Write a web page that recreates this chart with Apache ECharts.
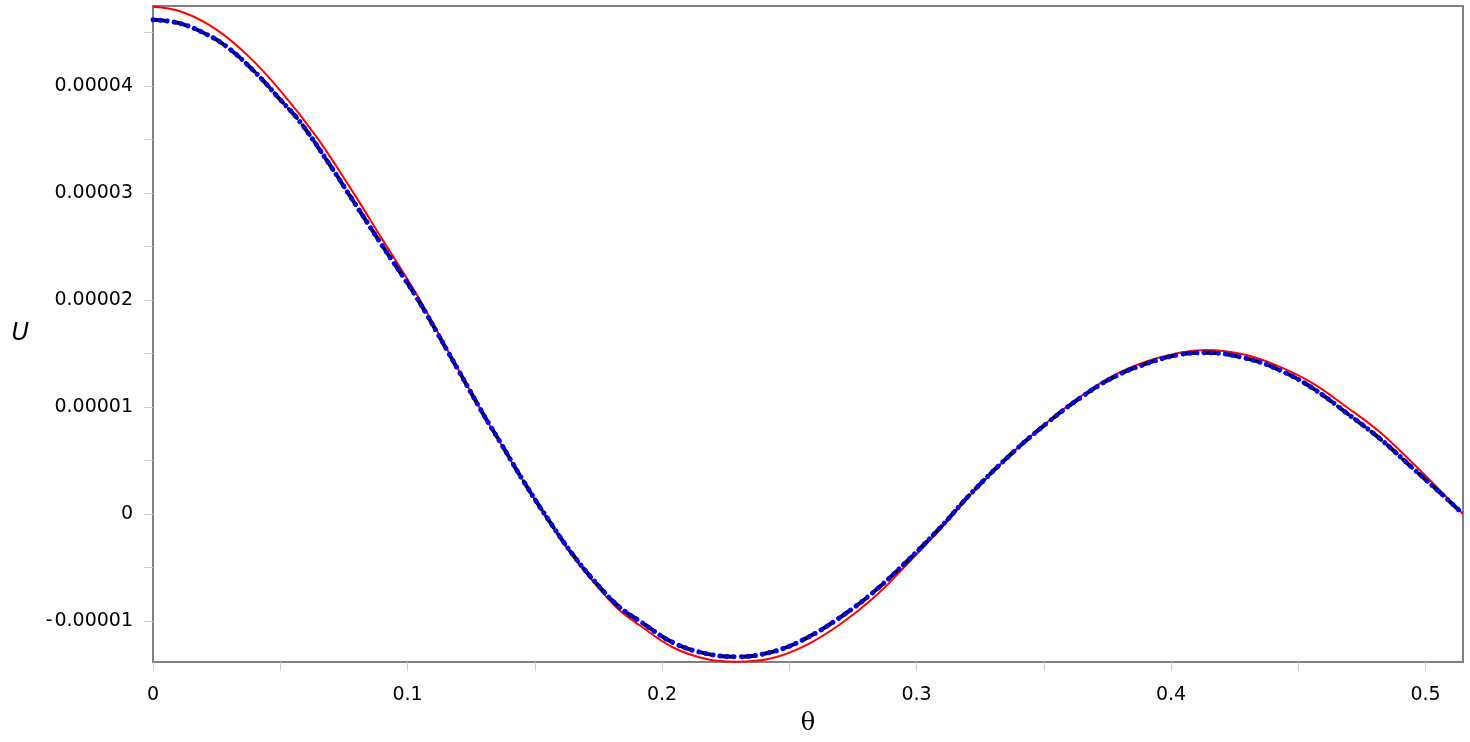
<!DOCTYPE html>
<html>
<head>
<meta charset="utf-8">
<title>U(θ)</title>
<script src="https://cdn.jsdelivr.net/npm/echarts@6/dist/echarts.min.js"></script>
<style>
  html, body { margin: 0; padding: 0; background: #fff; }
  #chart { width: 1470px; height: 742px; }
</style>
</head>
<body>
<div id="chart"></div>
<script>
// red solid curve, U in units of 1e-5
const thetaRed = [0, 0.0117, 0.0248, 0.0379, 0.051, 0.0641, 0.0772, 0.0903, 0.1034, 0.1165,
  0.1296, 0.1362, 0.146, 0.1561, 0.1656, 0.1754, 0.1833, 0.1912, 0.2042, 0.2174,
  0.2292, 0.2435, 0.2567, 0.2697, 0.2828, 0.296, 0.309, 0.3221, 0.3378, 0.351,
  0.364, 0.3771, 0.3903, 0.4033, 0.4138, 0.4295, 0.4426, 0.4557, 0.4688, 0.4819,
  0.495, 0.5081, 0.5147]
const uRed = [4.74, 4.69, 4.53, 4.27, 3.93, 3.53, 3.06, 2.56, 2.06, 1.50,
  0.94, 0.676, 0.287, -0.087, -0.414, -0.70, -0.90, -1.04, -1.245, -1.355,
  -1.380, -1.345, -1.225, -1.035, -0.79, -0.477, -0.150, 0.20, 0.575, 0.85,
  1.09, 1.29, 1.425, 1.508, 1.533, 1.486, 1.377, 1.221, 1.003, 0.769,
  0.474, 0.162, 0]

// numerical curve (drawn black dashed + blue dotted)
const thetaNum = [0, 0.0098, 0.0196, 0.0288, 0.0405, 0.0497, 0.0576, 0.0693, 0.0772, 0.0903,
  0.1034, 0.1165, 0.1296, 0.1362, 0.146, 0.1561, 0.1656, 0.1754, 0.1833, 0.1912,
  0.2042, 0.2174, 0.2292, 0.2435, 0.2567, 0.2697, 0.2828, 0.296, 0.309, 0.3221,
  0.3378, 0.351, 0.364, 0.3771, 0.3903, 0.4033, 0.4138, 0.4295, 0.4426, 0.4557,
  0.4688, 0.4819, 0.495, 0.5081, 0.5147]
const uNum = [4.62, 4.59, 4.50, 4.37, 4.12, 3.88, 3.67, 3.27, 2.98, 2.50,
  2.03, 1.49, 0.94, 0.68, 0.29, -0.08, -0.40, -0.68, -0.87, -1.00,
  -1.20, -1.305, -1.334, -1.287, -1.16, -0.97, -0.735, -0.446, -0.134, 0.21,
  0.575, 0.845, 1.08, 1.275, 1.405, 1.49, 1.508, 1.455, 1.346, 1.175,
  0.947, 0.707, 0.427, 0.147, 0]

const xLabels = [0, 0.1, 0.2, 0.3, 0.4, 0.5]
const xTicks = [0, 0.05, 0.1, 0.15, 0.2, 0.25, 0.3, 0.35, 0.4, 0.45, 0.5]
const yLabels = [-0.00001, 0, 0.00001, 0.00002, 0.00003, 0.00004]
const yTicks = [-0.00001, -0.000005, 0, 0.000005, 0.00001, 0.000015, 0.00002, 0.000025,
  0.00003, 0.000035, 0.00004, 0.000045]

const pairs = (xs, ys) => xs.map((x, i) => [x, ys[i] * 1e-5])

const chart = echarts.init(document.getElementById('chart'))
const labelFont = {
  color: '#000',
  fontFamily: 'DejaVu Sans',
  fontSize: 19
}
const option = {
  animation: false,
  grid: {
    left: 153,
    right: 7,
    top: 6,
    bottom: 80,
    show: true,
    borderColor: '#808080',
    borderWidth: 2
  },
  xAxis: {
    type: 'value',
    min: 0,
    max: 0.5147,
    name: 'θ',
    nameLocation: 'middle',
    nameGap: 50,
    nameTextStyle: {
      fontFamily: 'DejaVu Serif',
      fontSize: 24,
      color: '#000'
    },
    axisLine: { show: false, onZero: false },
    splitLine: { show: false },
    axisTick: {
      show: true,
      length: 9,
      customValues: xTicks,
      lineStyle: { color: '#cfcfcf', width: 1 }
    },
    axisLabel: {
      ...labelFont,
      margin: 24,
      customValues: xLabels,
      formatter: v => String(v)
    }
  },
  yAxis: {
    type: 'value',
    min: -0.00001383,
    max: 0.00004748,
    name: 'U',
    nameLocation: 'middle',
    nameRotate: 0,
    nameGap: 124,
    nameTextStyle: {
      fontFamily: 'DejaVu Sans',
      fontStyle: 'italic',
      fontSize: 24,
      color: '#000',
      padding: [0, 0, 0, 0]
    },
    axisLine: { show: false, onZero: false },
    splitLine: { show: false },
    axisTick: {
      show: true,
      length: 9,
      customValues: yTicks,
      lineStyle: { color: '#cfcfcf', width: 1 }
    },
    axisLabel: {
      ...labelFont,
      margin: 20,
      customValues: yLabels,
      formatter: v => (v < 0 ? '-\u200a' + String(-v) : String(v))
    }
  },
  series: [
    {
      name: 'exact',
      type: 'line',
      data: pairs(thetaRed, uRed),
      smooth: 0.4,
      showSymbol: false,
      z: 1,
      lineStyle: { color: '#ff0000', width: 2 }
    },
    {
      name: 'numeric-black',
      type: 'line',
      data: pairs(thetaNum, uNum),
      smooth: 0.4,
      showSymbol: false,
      z: 2,
      lineStyle: { color: '#000000', width: 4, type: [12, 9], cap: 'round' }
    },
    {
      name: 'numeric-blue',
      type: 'line',
      data: pairs(thetaNum, uNum),
      smooth: 0.4,
      showSymbol: false,
      z: 3,
      lineStyle: { color: '#0000ff', width: 5, type: [0.1, 7], cap: 'round' }
    }
  ]
}
chart.setOption(option, true)
window.addEventListener('resize', () => chart.resize())
</script>
</body>
</html>
